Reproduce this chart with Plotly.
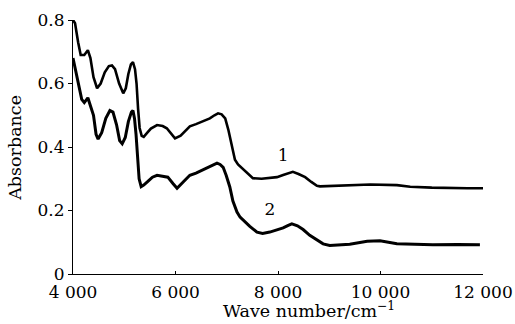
import plotly.graph_objects as go

# Curve 1 (upper)
x1 = [4000, 4040, 4100, 4150, 4220, 4290, 4340, 4400, 4470, 4540, 4620, 4700, 4760, 4820, 4900,
      4980, 5030, 5080, 5130, 5170, 5210, 5240, 5270, 5300, 5340, 5380, 5450,
      5520, 5640, 5750, 5830, 5920, 5990, 6100, 6190, 6280, 6400, 6540, 6670, 6760, 6830, 6900, 6970,
      7030, 7100, 7160, 7220, 7320, 7420, 7510, 7680, 7840, 7980,
      8100, 8200, 8290, 8400, 8530, 8650, 8760, 8820, 9100, 9400, 9800, 10320, 10580, 11000, 11360, 11700, 12000]
y1 = [0.80, 0.79, 0.73, 0.69, 0.69, 0.705, 0.68, 0.62, 0.585, 0.60, 0.635, 0.655, 0.657, 0.645, 0.60,
      0.569, 0.585, 0.63, 0.66, 0.667, 0.645, 0.60, 0.52, 0.46, 0.435, 0.432, 0.445,
      0.458, 0.469, 0.466, 0.459, 0.44, 0.427, 0.436, 0.452, 0.465, 0.472, 0.482, 0.49, 0.50, 0.506, 0.503, 0.49,
      0.455, 0.40, 0.36, 0.345, 0.33, 0.315, 0.302, 0.300, 0.302, 0.305,
      0.312, 0.318, 0.322, 0.315, 0.305, 0.29, 0.278, 0.276, 0.278, 0.28, 0.282, 0.28, 0.275, 0.272, 0.27, 0.27, 0.27]

# Curve 2 (lower)
x2 = [4000, 4040, 4100, 4170, 4220, 4290, 4340, 4400, 4450, 4490, 4560, 4640, 4720, 4780, 4850,
      4910, 4960, 5020, 5080, 5140, 5170, 5200, 5230, 5260, 5290, 5330, 5380, 5450,
      5550, 5640, 5750, 5850, 5950, 6030, 6150, 6280, 6400, 6520, 6650, 6750, 6810, 6870, 6930,
      6990, 7060, 7120, 7200, 7260, 7350, 7450, 7590, 7700, 7840, 7980,
      8100, 8200, 8270, 8380, 8490, 8620, 8760, 8880, 9010, 9400, 9740, 9990, 10320, 11020, 11500, 11940]
y2 = [0.68, 0.65, 0.60, 0.55, 0.54, 0.555, 0.53, 0.50, 0.44, 0.425, 0.445, 0.49, 0.515, 0.51, 0.47,
      0.42, 0.41, 0.43, 0.48, 0.51, 0.515, 0.49, 0.44, 0.36, 0.30, 0.275, 0.28, 0.29,
      0.305, 0.311, 0.308, 0.305, 0.285, 0.27, 0.29, 0.311, 0.318, 0.327, 0.335, 0.345, 0.349, 0.345, 0.336,
      0.31, 0.274, 0.23, 0.195, 0.179, 0.165, 0.15, 0.132, 0.128, 0.132, 0.138,
      0.145, 0.153, 0.158, 0.152, 0.14, 0.122, 0.107, 0.095, 0.09, 0.094, 0.103, 0.105, 0.095, 0.092, 0.093, 0.092]

xticks = [4000, 6000, 8000, 10000, 12000]
xticklabels = ["4 000", "6 000", "8 000", "10 000", "12 000"]
yticks = [0, 0.2, 0.4, 0.6, 0.8]
yticklabels = ["0", "0.2", "0.4", "0.6", "0.8"]

labels = ["1", "2"]
label_x = [8100, 7840]
label_y = [0.37, 0.198]

x_title = "Wave number/cm<sup>−1</sup>"
y_title = "Absorbance"

font = "DejaVu Serif"

fig = go.Figure()
fig.add_trace(go.Scatter(x=x1, y=y1, mode="lines", line=dict(color="black", width=2.6), showlegend=False))
fig.add_trace(go.Scatter(x=x2, y=y2, mode="lines", line=dict(color="black", width=3), showlegend=False))
fig.add_trace(go.Scatter(x=label_x, y=label_y, mode="text", text=labels,
                         textfont=dict(family=font, size=17, color="black"), showlegend=False))

fig.update_layout(
    width=515, height=324,
    margin=dict(l=73, r=32, t=20, b=50),
    paper_bgcolor="white", plot_bgcolor="white",
    font=dict(family=font, size=17, color="black"),
)
fig.update_xaxes(range=[4000, 12000], tickvals=xticks, ticktext=xticklabels, automargin=False,
                 showline=True, linecolor="black", linewidth=1.2, ticks="inside", ticklen=3,
                 tickcolor="black", showgrid=False, zeroline=False, tickfont=dict(size=17),
                 ticklabelstandoff=2)
fig.update_yaxes(range=[0, 0.8], tickvals=yticks, ticktext=yticklabels, automargin=False,
                 showline=True, linecolor="black", linewidth=1.2, ticks="outside", ticklen=4,
                 tickcolor="black", showgrid=False, zeroline=False, tickfont=dict(size=17))

fig.add_annotation(text=x_title, xref="paper", yref="paper", x=0.575, y=-0.192,
                   xanchor="center", yanchor="bottom", showarrow=False, font=dict(size=17.5))
fig.add_annotation(text=y_title, xref="paper", yref="paper", x=-0.142, y=0.496,
                   xanchor="center", yanchor="middle", textangle=-90, showarrow=False, font=dict(size=17.5))

fig.write_html("out.html", config={"displayModeBar": False},
               post_script="document.body.style.margin='0';document.body.style.overflow='hidden';")
